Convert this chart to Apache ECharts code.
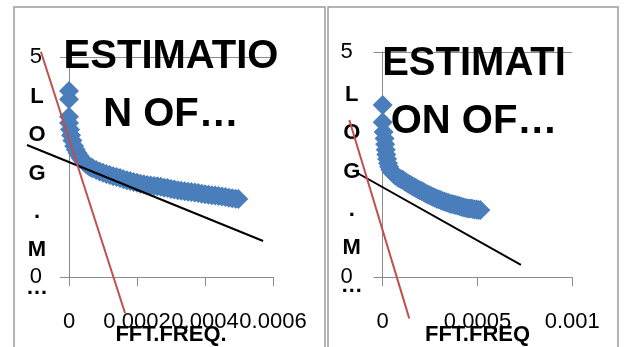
<!DOCTYPE html>
<html>
<head>
<meta charset="utf-8">
<script src="https://cdn.jsdelivr.net/npm/echarts@6/dist/echarts.min.js"></script>
<style>
html,body{margin:0;padding:0;background:#fff;}
#chart{width:625px;height:347px;}
</style>
</head>
<body>
<div id="chart"></div>
<script>
// ---- data ----
const titles = ['ESTIMATIO\nN OF…', 'ESTIMATI\nON OF…'];
const xNames = ['FFT.FREQ.', 'FFT.FREQ'];
const yName = 'L\nO\nG\n.\nM\n…';
const xMaxes = [0.0006, 0.001];
const xSteps = [0.0002, 0.0005];
const yMin = 0, yMax = 5, yStep = 5;

const panel1Freq = [0, 0, 0,
  0, 0.000003, 0.000006, 0.00001, 0.000015, 0.00002, 0.000025, 0.00003, 0.000035, 0.00004,
  0.000045, 0.00005, 0.000055, 0.00006, 0.000065, 0.00007, 0.00008, 0.00009, 0.0001, 0.00011,
  0.00012, 0.00013, 0.00014, 0.00015, 0.00016, 0.00017, 0.00018, 0.00019, 0.0002, 0.00021,
  0.00022, 0.00023, 0.00024, 0.00025, 0.00026, 0.00027, 0.00028, 0.00029, 0.0003, 0.00031,
  0.00032, 0.00033, 0.00034, 0.00035, 0.00036, 0.00037, 0.00038, 0.00039, 0.0004, 0.00041,
  0.00042, 0.00043, 0.00044, 0.00045, 0.00046, 0.00047, 0.00048, 0.00049, 0.000498];
const panel1LogMag = [4.23, 4.04, 3.64,
  3.5, 3.35, 3.22, 3.1, 2.98, 2.89, 2.82, 2.76, 2.7, 2.65,
  2.61, 2.57, 2.54, 2.51, 2.49, 2.47, 2.43, 2.4, 2.37, 2.34,
  2.32, 2.29, 2.27, 2.25, 2.22, 2.2, 2.18, 2.16, 2.14, 2.12,
  2.11, 2.09, 2.08, 2.07, 2.06, 2.05, 2.03, 2.02, 2.0, 1.99,
  1.97, 1.96, 1.95, 1.94, 1.93, 1.92, 1.91, 1.89, 1.88, 1.87,
  1.86, 1.85, 1.84, 1.83, 1.82, 1.8, 1.79, 1.78, 1.77];

const panel2Freq = [0, 0,
  0.000005, 0.00001, 0.000013, 0.000016, 0.000019, 0.000023, 0.000028, 0.000034, 0.00004, 0.000047,
  0.000055, 0.000065, 0.000075, 0.000085, 0.000095, 0.000105, 0.000115, 0.000125, 0.000135, 0.000145,
  0.000155, 0.000165, 0.000175, 0.000185, 0.000195, 0.000205, 0.000215, 0.000225, 0.000235, 0.000245,
  0.000255, 0.000265, 0.000275, 0.000285, 0.000295, 0.000305, 0.000315, 0.000325, 0.000335, 0.000345,
  0.000355, 0.000365, 0.000375, 0.000385, 0.000395, 0.000405, 0.000415, 0.000425, 0.000435, 0.000445,
  0.000455, 0.000465, 0.000475, 0.000485, 0.000495, 0.000505, 0.000515];
const panel2LogMag = [3.82, 3.44,
  3.22, 3.08, 2.95, 2.83, 2.72, 2.62, 2.53, 2.45, 2.39, 2.34,
  2.3, 2.26, 2.23, 2.2, 2.18, 2.16, 2.13, 2.1, 2.07, 2.05,
  2.02, 2.0, 1.98, 1.95, 1.93, 1.91, 1.89, 1.86, 1.84, 1.82,
  1.8, 1.78, 1.76, 1.74, 1.73, 1.71, 1.69, 1.68, 1.66, 1.65,
  1.63, 1.62, 1.61, 1.6, 1.59, 1.58, 1.56, 1.55, 1.54, 1.53,
  1.52, 1.52, 1.51, 1.5, 1.5, 1.49, 1.49];

const panel1TrendFreq = [-0.0001235, 0.000571];
const panel1TrendLogMag = [3.0, 0.818];
const panel1RedFreq = [-0.0000826, 0.000165];
const panel1RedLogMag = [5.12, -0.825];

const panel2TrendFreq = [-0.000129, 0.000729];
const panel2TrendLogMag = [2.30, 0.267];
const panel2RedFreq = [-0.000176, 0.00014];
const panel2RedLogMag = [3.49, -0.92];

// ---- layout (pixels) ----
const W = 625, H = 347;
const plots = [
  { left: 69, right: 273, top: 57, bottom: 277, frameL: 14, frameR: 325, nameMid: 192.6, nameGap: 32, labelMargin: 27, titleX: 171, titleTop: 28 },
  { left: 382.7, right: 572.3, top: 52, bottom: 277, frameL: 328, frameR: 618, nameMid: 190.6, nameGap: 31, labelMargin: 30, titleX: 474, titleTop: 35 }
];

const zip = (xs, ys) => xs.map((x, i) => [x, ys[i]]);
const FONT = 'Liberation Sans, Arial, sans-serif';
const AXIS_GRAY = '#8c8c8c';

const grids = [], xAxes = [], yAxes = [];
plots.forEach((p, i) => {
  // visible plot grid
  grids.push({ left: p.left, right: W - p.right, top: p.top, bottom: H - p.bottom, outerBoundsMode: 'none', containLabel: false });
  xAxes.push({
    type: 'value', gridIndex: grids.length - 1, min: 0, max: xMaxes[i], interval: xSteps[i],
    name: xNames[i], nameLocation: 'middle', nameGap: 47, nameMoveOverlap: false,
    nameTextStyle: { fontFamily: FONT, fontSize: 22, fontWeight: 'bold', color: '#000' },
    axisLine: { show: true, onZero: false, lineStyle: { color: AXIS_GRAY, width: 1 } },
    axisTick: { show: true, length: 9, lineStyle: { color: AXIS_GRAY } },
    axisLabel: { fontFamily: FONT, fontSize: 22, color: '#000', margin: 34, hideOverlap: false, showMinLabel: true, showMaxLabel: true },
    splitLine: { show: false }
  });
  yAxes.push({
    type: 'value', gridIndex: grids.length - 1, min: yMin, max: yMax, interval: yStep,
    axisLine: { show: true, onZero: false, lineStyle: { color: AXIS_GRAY, width: 1 } },
    axisTick: { show: true, length: 9, lineStyle: { color: AXIS_GRAY } },
    axisLabel: { fontFamily: FONT, fontSize: 22, color: '#000', margin: p.labelMargin, hideOverlap: false },
    splitLine: { show: true, lineStyle: { color: AXIS_GRAY, width: 1 } }
  });
  // overlay grid (same scale, larger area) for the trend lines that run past the axes, and the vertical axis title
  const kx = xMaxes[i] / (p.right - p.left);
  const ky = (yMax - yMin) / (p.bottom - p.top);
  const oTop = 2 * p.nameMid - H;
  grids.push({ left: p.frameL, right: W - p.frameR, top: oTop, bottom: 0, outerBoundsMode: 'none', containLabel: false });
  xAxes.push({
    type: 'value', gridIndex: grids.length - 1,
    min: (p.frameL - p.left) * kx, max: (p.frameR - p.left) * kx,
    axisLine: { show: false }, axisTick: { show: false }, axisLabel: { show: false }, splitLine: { show: false }
  });
  yAxes.push({
    type: 'value', gridIndex: grids.length - 1,
    min: yMin - (H - p.bottom) * ky, max: yMax + (p.top - oTop) * ky,
    offset: -(p.left - p.frameL),
    name: yName, nameLocation: 'middle', nameRotate: 0, nameGap: p.nameGap, nameMoveOverlap: false,
    nameTextStyle: { fontFamily: FONT, fontSize: 22, fontWeight: 'bold', color: '#000', align: 'center', verticalAlign: 'middle', lineHeight: 38.25 },
    axisLine: { show: false }, axisTick: { show: false }, axisLabel: { show: false }, splitLine: { show: false }
  });
});

function scatter(ai, xs, ys) {
  return { type: 'scatter', xAxisIndex: ai, yAxisIndex: ai, data: zip(xs, ys), symbol: 'diamond',
           symbolSize: 20, clip: false, itemStyle: { color: '#4a7ebb', opacity: 1 }, z: 2, silent: true };
}
function line(ai, xs, ys, color, width) {
  return { type: 'line', xAxisIndex: ai, yAxisIndex: ai, data: zip(xs, ys), showSymbol: false,
           symbol: 'none', clip: false, lineStyle: { color: color, width: width }, z: 3, silent: true };
}

const chart = echarts.init(document.getElementById('chart'), null, { renderer: 'canvas' });
chart.setOption({
  animation: false,
  backgroundColor: '#fff',
  title: plots.map((p, i) => ({
    text: titles[i], left: p.titleX, top: p.titleTop, textAlign: 'center', padding: 0, z: 5,
    textStyle: { fontFamily: FONT, fontSize: 40, fontWeight: 'bold', color: '#000', lineHeight: 58 }
  })),
  graphic: plots.map(p => ({
    type: 'rect', shape: { x: p.frameL, y: 7, width: p.frameR - p.frameL, height: 360 },
    style: { fill: 'none', stroke: '#9a9a9a', lineWidth: 1.5 }, z: -1
  })),
  grid: grids,
  xAxis: xAxes,
  yAxis: yAxes,
  series: [
    scatter(0, panel1Freq, panel1LogMag),
    line(1, panel1TrendFreq, panel1TrendLogMag, '#000000', 2),
    line(1, panel1RedFreq, panel1RedLogMag, '#c0504d', 2),
    scatter(2, panel2Freq, panel2LogMag),
    line(3, panel2TrendFreq, panel2TrendLogMag, '#000000', 2),
    line(3, panel2RedFreq, panel2RedLogMag, '#c0504d', 2)
  ]
});
</script>
</body>
</html>
